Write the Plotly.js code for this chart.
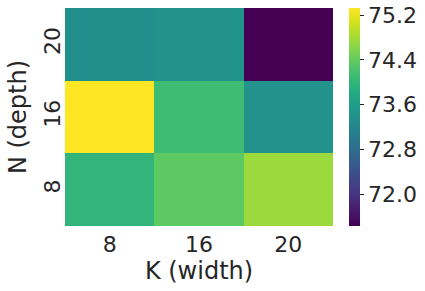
<!DOCTYPE html>
<html>
<head>
<meta charset="utf-8">
<script src="https://cdn.plot.ly/plotly-3.0.1.min.js"></script>
<style>html,body{margin:0;padding:0;background:#fff}#chart{width:425px;height:291px}</style>
</head>
<body>
<div id="chart"></div>
<script>
const widthLabels = ["8", "16", "20"];
const depthLabels = ["8", "16", "20"];
const rowDepth8 = [73.99, 74.36, 74.75];
const rowDepth16 = [75.33, 74.12, 73.40];
const rowDepth20 = [73.36, 73.42, 71.43];
const colorTicks = [72.0, 72.8, 73.6, 74.4, 75.2];

const txt = '#262626';
const fontFam = 'DejaVu Sans, sans-serif';

const data = [{
  type: 'heatmap',
  x: widthLabels,
  y: depthLabels,
  z: [rowDepth8, rowDepth16, rowDepth20],
  colorscale: 'Viridis',
  zmin: 71.43,
  zmax: 75.33,
  xgap: 0, ygap: 0,
  colorbar: {
    x: 1.06, xanchor: 'left', xref: 'paper',
    y: 0.5, yanchor: 'middle', len: 1, lenmode: 'fraction',
    thickness: 11, outlinewidth: 0,
    ticks: 'outside', ticklen: 4, tickwidth: 1, tickcolor: txt,
    tickvals: colorTicks, ticktext: colorTicks.map(v => v.toFixed(1)),
    tickfont: {family: fontFam, size: 22, color: txt},
    xpad: 0, ypad: 0
  }
}];

const layout = {
  width: 425, height: 291,
  margin: {l: 65, r: 92, t: 8, b: 65},
  paper_bgcolor: '#fff', plot_bgcolor: '#fff',
  font: {family: fontFam, color: txt},
  xaxis: {
    type: 'category', showgrid: false, zeroline: false, showline: false, ticks: '',
    tickfont: {family: fontFam, size: 22, color: txt},
    ticklabelstandoff: 3,
    title: {text: 'K (width)', font: {family: fontFam, size: 24, color: txt}, standoff: 6}
  },
  yaxis: {
    type: 'category', showgrid: false, zeroline: false, showline: false, ticks: '',
    tickangle: -90,
    tickfont: {family: fontFam, size: 22, color: txt},
    title: {text: 'N (depth)', font: {family: fontFam, size: 24, color: txt}, standoff: 6}
  }
};

Plotly.newPlot('chart', data, layout, {displayModeBar: false, staticPlot: true});
</script>
</body>
</html>
